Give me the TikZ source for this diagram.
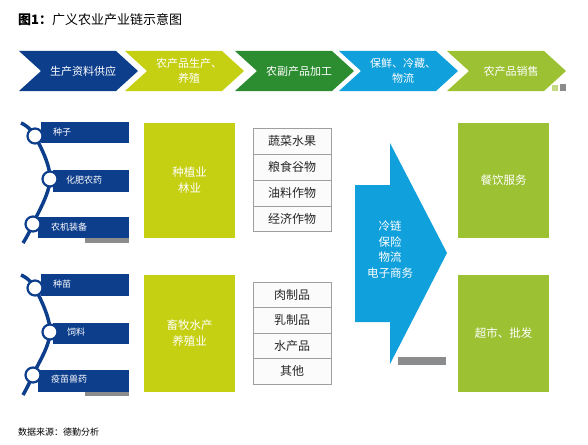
\documentclass[tikz,border=0pt]{standalone}
\usepackage{fontspec}
\setmainfont{Noto Sans CJK SC}
\definecolor{dblue}{HTML}{0D3E8C}
\definecolor{ygreen}{HTML}{C6D012}
\definecolor{dgreen}{HTML}{2C8C30}
\definecolor{cyanb}{HTML}{10A0DC}
\definecolor{lgreen}{HTML}{9CC132}
\definecolor{shadow}{HTML}{8A8C8E}
\begin{document}
\begin{tikzpicture}[x=1pt,y=-1pt,
  chevtext/.style={text=white,font=\fontsize{11}{14.5}\selectfont,align=center,inner sep=0},
  bar/.style={fill=dblue,draw=none,inner sep=0},
  bartext/.style={text=white,font=\fontsize{9}{10}\selectfont,anchor=west,inner sep=0},
  bigbox/.style={draw=none,inner sep=0,minimum width=91pt},
  boxtext/.style={text=white,font=\fontsize{11.5}{16}\selectfont,align=center,inner sep=0},
  cell/.style={draw=gray!75,line width=0.8pt,fill=gray!3,minimum width=78pt,inner sep=0,font=\fontsize{12}{14}\selectfont,text=black!85},
  ring/.style={circle,draw=dblue,line width=2.2pt,fill=white,minimum size=15pt,inner sep=0},
  arc/.style={draw=dblue,line width=3.5pt},
  shad/.style={fill=shadow}
]
\useasboundingbox (0,0) rectangle (588,444);
% title
\node[anchor=west,inner sep=0,font=\fontsize{13}{15}\selectfont] (title) at (18,20) {\textbf{图1：}广义农业产业链示意图};
% chevrons
\foreach \L/\col/\nm in {19/dblue/c1,125/ygreen/c2,235/dgreen/c3,339/cyanb/c4,447/lgreen/c5}{
  \fill[\col] (\L,51) -- ({\L+97},51) -- ({\L+119},71) -- ({\L+97},91) -- (\L,91) -- ({\L+22},71) -- cycle;
  \coordinate (\nm) at ({\L+64},71);
}
\node[chevtext] (t1) at (c1) {生产资料供应};
\node[chevtext] (t2) at (c2) {农产品生产、\\养殖};
\node[chevtext] (t3) at (c3) {农副产品加工};
\node[chevtext] (t4) at (c4) {保鲜、冷藏、\\物流};
\node[chevtext] (t5) at (c5) {农产品销售};
\fill[shadow] (560,84) rectangle (566,91);
\fill[lgreen!60] (552,85) rectangle (558,91);

% upper left group
\fill[shad] (85,238) rectangle (129,243);
\node[bar,minimum width=88pt,minimum height=21pt] (b1) at (85,132.5) {};
\node[bar,minimum width=76pt,minimum height=22pt] (b2) at (91,181) {};
\node[bar,minimum width=91pt,minimum height=21pt] (b3) at (83.5,227.5) {};
\draw[arc] plot[smooth,tension=0.6] coordinates {(21,123) (35,136) (50,179) (33,224) (23,243)};
\node[ring] (r1) at (35,136) {};
\node[ring] (r2) at (50,179) {};
\node[ring] (r3) at (33,224) {};
\node[bartext] (bt1) at (53,132) {种子};
\node[bartext] (bt2) at (66,180) {化肥农药};
\node[bartext] (bt3) at (51,227) {农机装备};

% lower left group
\fill[shad] (85,391) rectangle (129,396);
\node[bar,minimum width=88pt,minimum height=22pt] (b4) at (85,285) {};
\node[bar,minimum width=76pt,minimum height=21pt] (b5) at (91,333.5) {};
\node[bar,minimum width=91pt,minimum height=22pt] (b6) at (83.5,381) {};
\draw[arc] plot[smooth,tension=0.6] coordinates {(21,275) (35,288) (50,332) (33,375) (23,395)};
\node[ring] (r4) at (35,288) {};
\node[ring] (r5) at (50,332) {};
\node[ring] (r6) at (33,375) {};
\node[bartext] (bt4) at (53,284) {种苗};
\node[bartext] (bt5) at (67,332) {饲料};
\node[bartext] (bt6) at (51,379) {疫苗兽药};

% yellow boxes
\node[bigbox,fill=ygreen,minimum height=115pt] (y1) at (189.5,180.5) {};
\node[boxtext] at (y1) {种植业\\林业};
\node[bigbox,fill=ygreen,minimum height=117pt] (y2) at (189.5,333.5) {};
\node[boxtext] at (y2) {畜牧水产\\养殖业};

% tables
\node[cell,minimum height=26pt] (u1) at (292,141) {蔬菜水果};
\node[cell,minimum height=26pt] (u2) at (292,167) {粮食谷物};
\node[cell,minimum height=26pt] (u3) at (292,193) {油料作物};
\node[cell,minimum height=25pt] (u4) at (292,218.5) {经济作物};
\node[cell,minimum height=25pt] (l1) at (292,294.5) {肉制品};
\node[cell,minimum height=26pt] (l2) at (292,320) {乳制品};
\node[cell,minimum height=25pt] (l3) at (292,345.5) {水产品};
\node[cell,minimum height=26pt] (l4) at (292,371) {其他};

% big arrow
\fill[shad] (398,357) rectangle (446,365);
\fill[cyanb] (355,185) -- (390,185) -- (390,143) -- (447,253) -- (390,364) -- (390,322) -- (355,322) -- cycle;
\node[boxtext,font=\fontsize{11.5}{15.6}\selectfont] (arr) at (390,249.5) {冷链\\保险\\物流\\电子商务};

% right boxes
\node[bigbox,fill=lgreen,minimum height=115pt] (g1) at (503.5,180.5) {};
\node[boxtext] at (g1) {餐饮服务};
\node[bigbox,fill=lgreen,minimum height=117pt] (g2) at (503.5,333.5) {};
\node[boxtext] at (g2) {超市、批发};

% source
\node[anchor=west,inner sep=0,font=\fontsize{9}{11}\selectfont] (src) at (18,432) {数据来源：德勤分析};
\end{tikzpicture}
\end{document}
